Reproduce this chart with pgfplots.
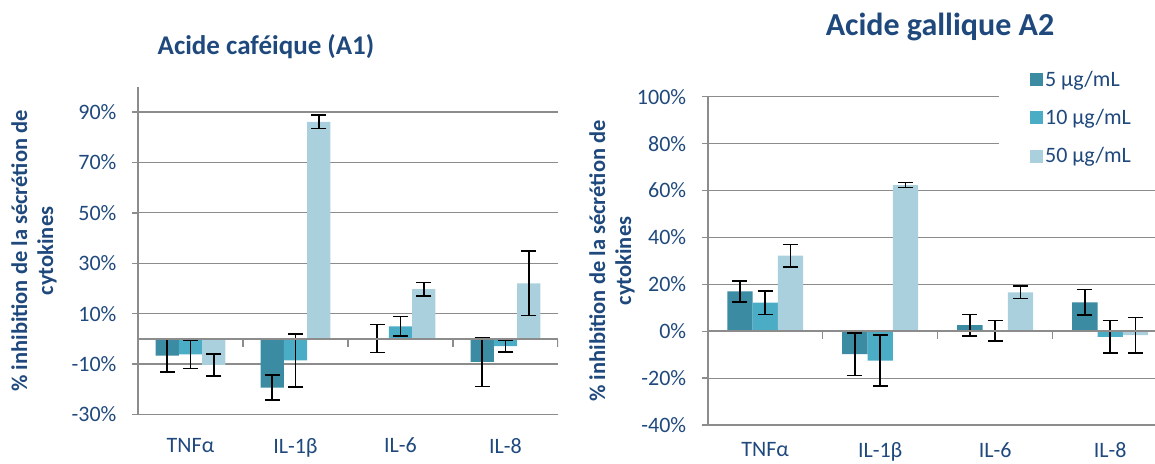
\documentclass[border=0pt]{standalone}
\usepackage{fontspec}
\setmainfont{Carlito}
\usepackage{pgfplots}
\usepackage{pgfplotstable}
\pgfplotsset{compat=1.18}
\definecolor{cA}{RGB}{59,139,163}
\definecolor{cB}{RGB}{75,172,198}
\definecolor{cC}{RGB}{170,207,221}
\definecolor{txt}{RGB}{31,73,125}
\definecolor{gridc}{RGB}{140,140,140}
\newcommand\tickfont{\fontsize{22}{26}\selectfont}
\newcommand\titlefont{\bfseries\fontsize{27}{32}\selectfont}
\newcommand\titlefontB{\bfseries\fontsize{32}{36}\selectfont}
\newcommand\ylabfont{\bfseries\fontsize{22.5}{26}\selectfont}

\pgfplotstableread{
x v e
0 -6.6 6.6
1 -19.3 5.0
2 0.2 5.6
3 -9.1 9.7
}\tabLA
\pgfplotstableread{
x v e
0 -6.1 5.7
1 -8.5 10.5
2 5.0 3.8
3 -2.9 2.4
}\tabLB
\pgfplotstableread{
x v e
0 -10.3 4.4
1 86.1 2.7
2 19.7 2.6
3 22.0 12.8
}\tabLC
\pgfplotstableread{
x v e
0 17.0 4.5
1 -9.8 9.0
2 2.6 4.6
3 12.3 5.4
}\tabRA
\pgfplotstableread{
x v e
0 12.2 5.0
1 -12.5 10.9
2 0.2 4.3
3 -2.4 7.0
}\tabRB
\pgfplotstableread{
x v e
0 32.2 4.8
1 62.3 1.1
2 16.6 2.7
3 -1.7 7.6
}\tabRC

\pgfplotsset{
  common/.style={
    anchor=south west, scale only axis,
    xmin=-0.5,
    ybar=0pt,
    axis x line*=bottom, x axis line style={draw=none},
    axis y line*=left, y axis line style={gridc, line width=1.6pt},
    xtick={0,1,2,3}, xticklabels={TNFα,IL-1β,IL-6,IL-8},
    major x tick style={draw=none},
    yticklabel style={font=\tickfont, text=txt, xshift=-12pt},
    tick align=outside, major tick length=6pt,
    major y tick style={gridc, line width=1.4pt},
    ymajorgrids, grid style={gridc, line width=1.2pt},
    legend image code/.code={\fill[##1] (0pt,-6.5pt) rectangle (13pt,6.5pt);},
  },
  eb/.style={error bars/.cd, y dir=both, y explicit,
    error bar style={black, line width=1.5pt},
    error mark options={black, line width=1.5pt, mark size=7.5pt, rotate=90}},
}

\begin{document}
\begin{tikzpicture}
\path[use as bounding box] (0,0) rectangle (1155pt,463pt);

\node[font=\titlefont, text=txt, anchor=base] at (266pt,408pt) {Acide caféique (A1)};
\node[font=\titlefontB, text=txt, anchor=base] at (940pt,427pt) {Acide gallique A2};

\node[rotate=90, align=center, font=\ylabfont, text=txt] at (34pt,212pt) {\% inhibition de la sécrétion de\\cytokines};
\node[rotate=90, align=center, font=\ylabfont, text=txt] at (612pt,202pt) {\% inhibition de la sécrétion de\\cytokines};

\begin{axis}[common,
  at={(138pt,48.5pt)}, width=420pt, height=327.7pt,
  xmax=3.5, ymin=-30, ymax=100, bar width=23.3pt,
  xticklabel style={font=\tickfont, text=txt, yshift=-14pt},
  ytick={-30,-10,10,30,50,70,90},
  yticklabels={-30\%,-10\%,10\%,30\%,50\%,70\%,90\%},
]
\addplot[fill=cA, draw=none, eb] table[x=x, y=v, y error=e] {\tabLA};
\addplot[fill=cB, draw=none, eb] table[x=x, y=v, y error=e] {\tabLB};
\addplot[fill=cC, draw=none, eb] table[x=x, y=v, y error=e] {\tabLC};
\draw[gridc, line width=1.6pt] (axis cs:-0.5,0) -- (axis cs:3.5,0);
\pgfplotsinvokeforeach{0.5,1.5,2.5,3.5}{\draw[gridc, line width=1.2pt] (axis cs:#1,0) -- ++(0pt,-8pt);}
\end{axis}

\begin{axis}[common,
  at={(707.7pt,38pt)}, width=447.3pt, height=328.3pt,
  xmax=3.39, ymin=-40, ymax=100, bar width=25.3pt,
  xticklabel style={font=\tickfont, text=txt, yshift=-8pt},
  ytick={-40,-20,0,20,40,60,80,100},
  yticklabels={-40\%,-20\%,0\%,20\%,40\%,60\%,80\%,100\%},
  legend style={at={(0.651,1.103)}, anchor=north west, draw=none, fill=white,
    font=\tickfont, text=txt, inner xsep=31pt, inner ysep=6pt, row sep=17.5pt},
  legend cell align=left,
]
\addplot[fill=cA, draw=none, eb] table[x=x, y=v, y error=e] {\tabRA};
\addplot[fill=cB, draw=none, eb] table[x=x, y=v, y error=e] {\tabRB};
\addplot[fill=cC, draw=none, eb] table[x=x, y=v, y error=e] {\tabRC};
\legend{5 µg/mL,10 µg/mL,50 µg/mL}
\draw[gridc, line width=1.6pt] (axis cs:-0.5,0) -- (axis cs:3.39,0);
\pgfplotsinvokeforeach{0.5,1.5,2.5}{\draw[gridc, line width=1.2pt] (axis cs:#1,0) -- ++(0pt,-8pt);}
\end{axis}
\end{tikzpicture}
\end{document}
